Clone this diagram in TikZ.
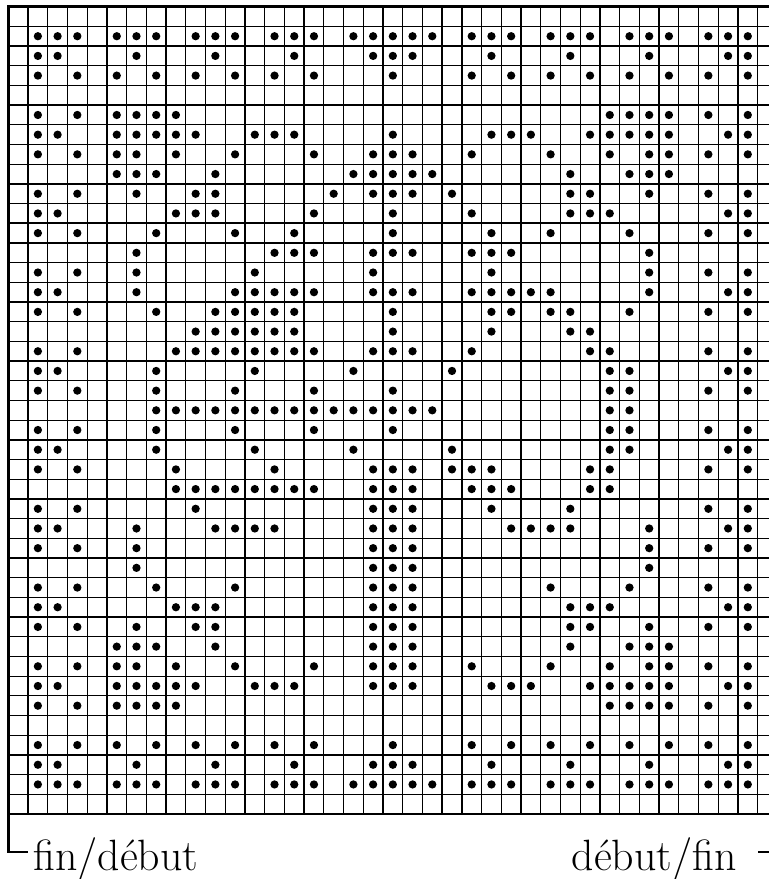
\documentclass[tikz,border=0pt]{standalone}
\begin{document}
\begin{tikzpicture}[
    x=9.86bp,y=9.845bp,
    gridline/.style={line width=0.65bp},
    heavyline/.style={line width=1.1bp},
    frameline/.style={line width=1.3bp},
    bracket/.style={line width=1.2bp},
    endtext/.style={inner sep=0pt,font=\fontsize{22}{26}\selectfont}
]
\useasboundingbox (-0.421,-3.302) rectangle (38.575,41.340);
\clip (-0.421,-3.302) rectangle (38.575,41.340);
% chart grid
\draw[gridline,step=1] (0,0) grid (39,41);
\draw[heavyline] (19,0) -- (19,41);
\draw[heavyline] (0,30) -- (39,30);
\draw[frameline] (0,0) rectangle (39,41);
% stitches, row number counted from the top
\foreach \r/\cs in {
  1/{1,2,3,5,6,7,9,10,11,13,14,15,17,18,19,20,21,23,24,25,27,28,29,31,32,33,35,36,37},
  2/{1,2,6,10,14,18,19,20,24,28,32,36,37},
  3/{1,3,5,7,9,11,13,15,19,23,25,27,29,31,33,35,37},
  5/{1,3,5,6,7,8,30,31,32,33,35,37},
  6/{1,2,5,6,7,8,9,12,13,14,19,24,25,26,29,30,31,32,33,36,37},
  7/{1,3,5,6,8,11,15,18,19,20,23,27,30,32,33,35,37},
  8/{5,6,7,10,17,18,19,20,21,28,31,32,33},
  9/{1,3,6,9,10,16,18,19,20,22,28,29,32,35,37},
  10/{1,2,8,9,10,15,19,23,28,29,30,36,37},
  11/{1,3,7,11,14,19,24,27,31,35,37},
  12/{6,13,14,15,18,19,20,23,24,25,32},
  13/{1,3,6,12,...,26,32,35,37},
  14/{1,2,6,11,12,13,14,15,18,19,20,23,24,25,26,27,32,36,37},
  15/{1,3,7,10,11,12,13,14,19,24,25,27,28,31,35,37},
  16/{9,10,11,12,13,14,19,24,28,29},
  17/{1,3,8,9,10,11,12,13,14,15,18,19,20,23,29,30,35,37},
  18/{1,2,7,...,22,30,31,36,37},
  19/{1,3,7,...,21,30,31,35,37},
  20/{7,...,21,30,31},
  21/{1,3,7,...,22,30,31,35,37},
  22/{1,2,7,...,23,30,31,36,37},
  23/{1,3,8,...,16,18,19,20,22,23,24,29,30,35,37},
  24/{8,...,15,18,19,20,23,24,25,29,30},
  25/{1,3,9,...,14,18,19,20,24,...,29,35,37},
  26/{1,2,6,10,11,12,13,18,19,20,25,26,27,28,32,36,37},
  27/{1,3,6,18,19,20,32,35,37},
  28/{6,18,19,20,32},
  29/{1,3,7,11,18,19,20,27,31,35,37},
  30/{1,2,8,9,10,18,19,20,28,29,30,36,37},
  31/{1,3,6,9,10,18,19,20,28,29,32,35,37},
  32/{5,6,7,10,18,19,20,28,31,32,33},
  33/{1,3,5,6,8,11,15,18,19,20,23,27,30,32,33,35,37},
  34/{1,2,5,6,7,8,9,12,13,14,18,19,20,24,25,26,29,30,31,32,33,36,37},
  35/{1,3,5,6,7,8,30,31,32,33,35,37},
  37/{1,3,5,7,9,11,13,15,19,23,25,27,29,31,33,35,37},
  38/{1,2,6,10,14,18,19,20,24,28,32,36,37},
  39/{1,2,3,5,6,7,9,10,11,13,14,15,17,18,19,20,21,23,24,25,27,28,29,31,32,33,35,36,37}}
  \foreach \c in \cs
    \fill (\c+0.5,40.5-\r) circle (0.21);
% start and end marks
\coordinate (lbot) at (0,0);
\coordinate (lcorner) at (0,-1.92);
\coordinate (lend) at (1,-1.92);
\coordinate (rbot) at (39,0);
\coordinate (rcorner) at (39,-1.92);
\coordinate (rend) at (38,-1.92);
\draw[bracket] (lbot) -- (lcorner) -- (lend);
\draw[bracket] (rbot) -- (rcorner) -- (rend);
\node[endtext,anchor=base west] (findebut) at (1.25,-2.845) {fin/début};
\node[endtext,anchor=base east] (debutfin) at (36.95,-2.845) {début/fin};
\end{tikzpicture}
\end{document}
